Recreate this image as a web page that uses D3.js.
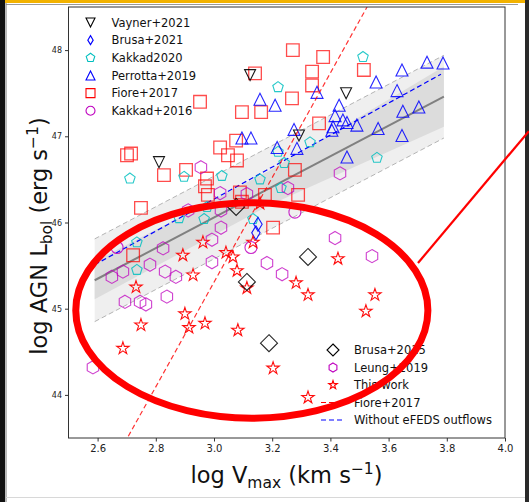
<!DOCTYPE html>
<html>
<head>
<meta charset="utf-8">
<script src="https://cdn.jsdelivr.net/npm/d3@7"></script>
<style>
  body { margin: 0; background: #fff; }
  svg { display: block; font-family: 'DejaVu Sans', sans-serif; }
</style>
</head>
<body>
<div id="chart"></div>
<script>
// ---- data (log Vmax, log Lbol) ----
const vayner2021 = [[3.124, 47.71], [2.811, 46.70], [3.454, 47.50], [3.292, 47.01]];
const brusa2021 = [[3.151, 45.98], [3.144, 45.88]];
const kakkad2020 = [
  [2.711, 46.51], [2.897, 46.53], [3.027, 46.54], [3.158, 46.50], [3.230, 46.40],
  [3.220, 46.82], [3.241, 46.69], [3.220, 47.57], [3.512, 47.92], [3.560, 46.75],
  [3.330, 46.93], [2.976, 46.18], [2.880, 46.05], [2.966, 46.04], [3.134, 46.04],
  [2.735, 45.77], [2.735, 45.45]
];
const perrotta2019 = [
  [3.158, 47.43], [3.210, 47.36], [3.096, 46.98], [3.127, 46.98], [3.217, 46.87],
  [3.285, 46.86], [3.275, 47.08], [3.354, 47.51], [3.430, 47.36], [3.416, 47.24],
  [3.443, 47.19], [3.457, 47.16], [3.409, 47.11], [3.405, 47.07], [3.491, 47.13],
  [3.564, 47.09], [3.557, 47.63], [3.646, 47.77], [3.629, 47.53], [3.649, 47.29],
  [3.704, 47.34], [3.732, 47.86], [3.787, 47.85], [3.646, 47.01], [3.457, 46.76]
];
const fiore2017 = [
  [3.271, 48.00], [3.141, 47.73], [2.952, 47.40], [3.096, 47.28], [3.162, 47.28],
  [3.268, 47.44], [3.375, 47.92], [3.337, 47.75], [3.337, 47.59], [3.515, 47.77],
  [3.361, 47.15], [3.278, 46.61], [3.289, 46.32], [2.701, 46.78], [2.715, 46.80],
  [2.828, 46.55], [2.904, 46.61], [2.976, 46.51], [2.969, 46.42], [2.979, 46.32],
  [3.021, 46.87], [3.048, 46.78], [3.079, 46.72], [3.076, 46.95], [3.089, 46.35],
  [3.096, 46.24], [3.175, 46.32], [3.203, 45.94], [2.749, 46.17], [2.722, 45.62]
];
const kakkad2016 = [[3.278, 46.12], [3.127, 45.71], [2.667, 45.71]];
const brusa2015 = [[3.076, 46.18], [3.113, 45.31], [3.189, 44.60], [3.323, 45.60]];
const leung2019 = [
  [2.955, 46.64], [3.021, 46.34], [3.113, 46.33], [3.024, 46.14], [2.911, 46.14],
  [3.024, 45.94], [2.993, 45.80], [2.825, 45.70], [2.780, 45.51], [2.687, 45.43],
  [2.649, 45.37], [2.832, 45.43], [2.869, 45.37], [2.993, 45.54], [3.182, 45.53],
  [3.234, 45.40], [3.254, 46.40], [2.694, 45.08], [2.746, 45.08], [2.766, 45.05],
  [2.838, 45.14], [2.584, 44.32], [3.433, 46.57], [3.416, 45.82], [3.543, 45.61]
];
const thisWork = [
  [2.962, 45.77], [2.893, 45.62], [2.928, 45.39], [2.732, 45.25], [3.041, 45.65],
  [3.065, 45.60], [3.079, 45.44], [3.113, 45.24], [3.134, 45.77], [3.158, 46.22],
  [3.282, 45.30], [3.323, 45.16], [3.426, 45.58], [2.900, 44.94], [2.749, 44.81],
  [2.969, 44.83], [2.914, 44.78], [3.082, 44.75], [2.687, 44.54], [3.203, 44.31],
  [3.323, 43.97], [3.553, 45.16], [3.522, 44.97]
];

// fits
const fitAll = [[2.59, 45.33], [3.79, 47.46]];
const fitNoEfeds = [[2.59, 45.51], [3.78, 47.72]];
const fioreRelation = [[2.7055, 43.52], [3.526, 48.5]];
const bandX = [2.59, 3.19, 3.79];
const innerLo = [45.11, 46.20, 47.11];
const innerHi = [45.55, 46.60, 47.81];
const outerX = [2.59, 3.79];
const outerLo = [44.85, 46.98];
const outerHi = [45.81, 47.94];

// hand-drawn annotation (data units)
const ringCenter = [3.13, 44.98];
const ringRadius = [0.605, 1.25];
const pointerLine = [[3.701, 45.53], [4.082, 47.06]];

const xTicks = [2.6, 2.8, 3.0, 3.2, 3.4, 3.6, 3.8, 4.0];
const yTicks = [44, 45, 46, 47, 48];

// ---- layout ----
const W = 529, H = 502;
const svg = d3.select('#chart').append('svg').attr('width', W).attr('height', H);

const x = d3.scaleLinear().domain([2.5, 4.0]).range([68.5, 505]);
const y = d3.scaleLinear().domain([43.5, 48.5]).range([438, 7]);

// screenshot frame bits
svg.append('rect').attr('x', 0).attr('y', 0).attr('width', W).attr('height', 3).attr('fill', '#f2b200');
svg.append('line').attr('x1', 6).attr('x2', 518).attr('y1', 4.5).attr('y2', 4.5).attr('stroke', '#9a9a9a');
svg.append('rect').attr('x', 0).attr('y', 0).attr('width', 5).attr('height', H).attr('fill', '#111');
svg.append('line').attr('x1', 6).attr('x2', 6).attr('y1', 3).attr('y2', H).attr('stroke', '#777');
svg.append('rect').attr('x', 525).attr('y', 0).attr('width', 4).attr('height', H).attr('fill', '#2a2a2a');
svg.append('line').attr('x1', 6).attr('x2', 525).attr('y1', 497.5).attr('y2', 497.5).attr('stroke', '#d8d8d8');

// bands
svg.append('path')
  .datum(outerX.map((d, i) => [d, outerLo[i], outerHi[i]]))
  .attr('fill', '#efefef')
  .attr('d', d3.area().x(d => x(d[0])).y0(d => y(d[1])).y1(d => y(d[2])));
svg.append('path')
  .datum(bandX.map((d, i) => [d, innerLo[i], innerHi[i]]))
  .attr('fill', '#dcdcdc')
  .attr('d', d3.area().x(d => x(d[0])).y0(d => y(d[1])).y1(d => y(d[2])));

const line = d3.line().x(d => x(d[0])).y(d => y(d[1]));
[outerLo, outerHi].forEach(arr => {
  svg.append('path')
    .datum(outerX.map((d, i) => [d, arr[i]]))
    .attr('d', line).attr('fill', 'none')
    .attr('stroke', '#b4b4b4').attr('stroke-width', 1).attr('stroke-dasharray', '5,3');
});
svg.append('path').datum(fitAll).attr('d', line).attr('fill', 'none')
  .attr('stroke', '#808080').attr('stroke-width', 2);
svg.append('path').datum(fitNoEfeds).attr('d', line).attr('fill', 'none')
  .attr('stroke', '#0000ff').attr('stroke-width', 1.2).attr('stroke-dasharray', '5,3');

// marker shapes (matplotlib-like)
function polygon(n, r, startDeg) {
  const pts = d3.range(n).map(i => {
    const a = (startDeg + i * 360 / n) * Math.PI / 180;
    return [r * Math.cos(a), r * Math.sin(a)];
  });
  return 'M' + pts.map(p => p.join(',')).join('L') + 'Z';
}
function shape(type, r) {
  switch (type) {
    case 'square': return `M${-r},${-r}H${r}V${r}H${-r}Z`;
    case 'tri': return `M0,${-r}L${r},${r}L${-r},${r}Z`;
    case 'triDown': return `M0,${r}L${r},${-r}L${-r},${-r}Z`;
    case 'pent': return polygon(5, r, -90);
    case 'hex': return polygon(6, r, -90);
    case 'diamond': return polygon(4, r, -90);
    case 'thinDiamond': return `M0,${-r}L${0.6 * r},0L0,${r}L${-0.6 * r},0Z`;
    case 'circle': return `M${r},0A${r},${r} 0 1,1 ${-r},0A${r},${r} 0 1,1 ${r},0Z`;
    case 'star': {
      const pts = d3.range(10).map(i => {
        const rr = i % 2 ? r * 0.382 : r;
        const a = (-90 + i * 36) * Math.PI / 180;
        return [rr * Math.cos(a), rr * Math.sin(a)];
      });
      return 'M' + pts.map(p => p.join(',')).join('L') + 'Z';
    }
  }
}

const series = [
  { data: fiore2017, type: 'square', r: 6.3, color: '#ff0000', op: 0.7, sw: 1.3 },
  { data: kakkad2020, type: 'pent', r: 5.5, color: '#00bfbf', op: 0.85, sw: 1.1 },
  { data: perrotta2019, type: 'tri', r: 6, color: '#0000ff', op: 0.85, sw: 1.1 },
  { data: leung2019, type: 'hex', r: 6.6, color: '#bf00bf', op: 0.75, sw: 1.1 },
  { data: kakkad2016, type: 'circle', r: 6, color: '#bf00bf', op: 0.85, sw: 1.1 },
  { data: vayner2021, type: 'triDown', r: 5.5, color: '#000000', op: 0.9, sw: 1.1 },
  { data: brusa2021, type: 'thinDiamond', r: 7, color: '#0000ff', op: 0.9, sw: 1.1 },
  { data: thisWork, type: 'star', r: 6.5, color: '#ff0000', op: 0.95, sw: 1.1 },
  { data: brusa2015, type: 'diamond', r: 8.5, color: '#000000', op: 0.85, sw: 1.1 }
];

series.forEach(s => {
  svg.append('g').selectAll('path').data(s.data).enter().append('path')
    .attr('transform', d => `translate(${x(d[0])},${y(d[1])})`)
    .attr('d', shape(s.type, s.r))
    .attr('fill', 'none')
    .attr('stroke', s.color)
    .attr('stroke-opacity', s.op)
    .attr('stroke-width', s.sw);
});

// Fiore relation, clipped to axes
svg.append('clipPath').attr('id', 'ax').append('rect')
  .attr('x', 68.5).attr('y', 7).attr('width', 436.5).attr('height', 431);
svg.append('path').datum(fioreRelation).attr('d', line).attr('fill', 'none')
  .attr('clip-path', 'url(#ax)')
  .attr('stroke', '#ff0000').attr('stroke-opacity', 0.8).attr('stroke-width', 1.2).attr('stroke-dasharray', '5,3');

// axes
svg.append('rect').attr('x', 68.5).attr('y', 7).attr('width', 436.5).attr('height', 431)
  .attr('fill', 'none').attr('stroke', '#333').attr('stroke-width', 1);

const xAxis = svg.append('g').attr('transform', 'translate(0,438)')
  .call(d3.axisBottom(x).tickValues(xTicks).tickFormat(d3.format('.1f')).tickSize(3.5).tickPadding(3));
const yAxis = svg.append('g').attr('transform', 'translate(68.5,0)')
  .call(d3.axisLeft(y).tickValues(yTicks).tickFormat(d3.format('d')).tickSize(3.5).tickPadding(3));
[xAxis, yAxis].forEach(a => {
  a.select('.domain').remove();
  a.selectAll('line').attr('stroke', '#333');
  a.selectAll('text').attr('fill', '#222').style('font-family', "'DejaVu Sans', sans-serif");
});
xAxis.selectAll('text').style('font-size', '10px');
yAxis.selectAll('text').style('font-size', '8px');

// axis labels
const xl = svg.append('text').attr('x', 286.5).attr('y', 483).attr('text-anchor', 'middle')
  .style('font-size', '22.5px').attr('fill', '#111');
xl.append('tspan').text('log V');
xl.append('tspan').attr('dy', 5).style('font-size', '15.5px').text('max');
xl.append('tspan').attr('dy', -5).text(' (km s');
xl.append('tspan').attr('dy', -9).style('font-size', '15.5px').text('\u22121');
xl.append('tspan').attr('dy', 9).text(')');

const yl = svg.append('text').attr('transform', 'translate(47,236) rotate(-90)').attr('text-anchor', 'middle')
  .style('font-size', '22.5px').attr('fill', '#111');
yl.append('tspan').text('log AGN L');
yl.append('tspan').attr('dy', 5).style('font-size', '15.5px').text('bol');
yl.append('tspan').attr('dy', -5).text(' (erg s');
yl.append('tspan').attr('dy', -9).style('font-size', '15.5px').text('\u22121');
yl.append('tspan').attr('dy', 9).text(')');

// legends
const legend1 = [
  { label: 'Vayner+2021', type: 'triDown', color: '#000000' },
  { label: 'Brusa+2021', type: 'thinDiamond', color: '#0000ff' },
  { label: 'Kakkad2020', type: 'pent', color: '#00bfbf' },
  { label: 'Perrotta+2019', type: 'tri', color: '#0000ff' },
  { label: 'Fiore+2017', type: 'square', color: '#ff0000' },
  { label: 'Kakkad+2016', type: 'circle', color: '#bf00bf' }
];
const legend2 = [
  { label: 'Brusa+2015', type: 'diamond', color: '#000000' },
  { label: 'Leung+2019', type: 'hex', color: '#bf00bf' },
  { label: 'This work', type: 'star', color: '#ff0000' },
  { label: 'Fiore+2017', line: true, color: '#ff0000' },
  { label: 'Without eFEDS outflows', line: true, color: '#0000ff' }
];
function drawLegend(items, mx, tx, y0, dy) {
  const g = svg.append('g');
  items.forEach((it, i) => {
    const yy = y0 + i * dy;
    if (it.line) {
      g.append('line').attr('x1', mx - 12).attr('x2', mx + 10).attr('y1', yy).attr('y2', yy)
        .attr('stroke', it.color).attr('stroke-width', 1.2).attr('stroke-dasharray', '5,3');
    } else {
      g.append('path').attr('transform', `translate(${mx},${yy})`)
        .attr('d', shape(it.type, it.type === 'diamond' ? 6 : 4.5))
        .attr('fill', 'none').attr('stroke', it.color).attr('stroke-width', 1.1);
    }
    g.append('text').attr('x', tx).attr('y', yy + 4.3).style('font-size', '11.5px')
      .attr('fill', '#111').text(it.label);
  });
}
drawLegend(legend1, 90.5, 111.5, 22.5, 17.65);
drawLegend(legend2, 333, 354, 350, 17.5);

// red hand-drawn annotation on top
svg.append('ellipse')
  .attr('cx', x(ringCenter[0])).attr('cy', y(ringCenter[1]))
  .attr('rx', x(ringCenter[0] + ringRadius[0]) - x(ringCenter[0]))
  .attr('ry', y(ringCenter[1]) - y(ringCenter[1] + ringRadius[1]))
  .attr('fill', 'none').attr('stroke', '#ff0000').attr('stroke-width', 7);
svg.append('path').datum(pointerLine).attr('d', line)
  .attr('stroke', '#ff0000').attr('stroke-width', 2.2).attr('fill', 'none');
</script>
</body>
</html>
